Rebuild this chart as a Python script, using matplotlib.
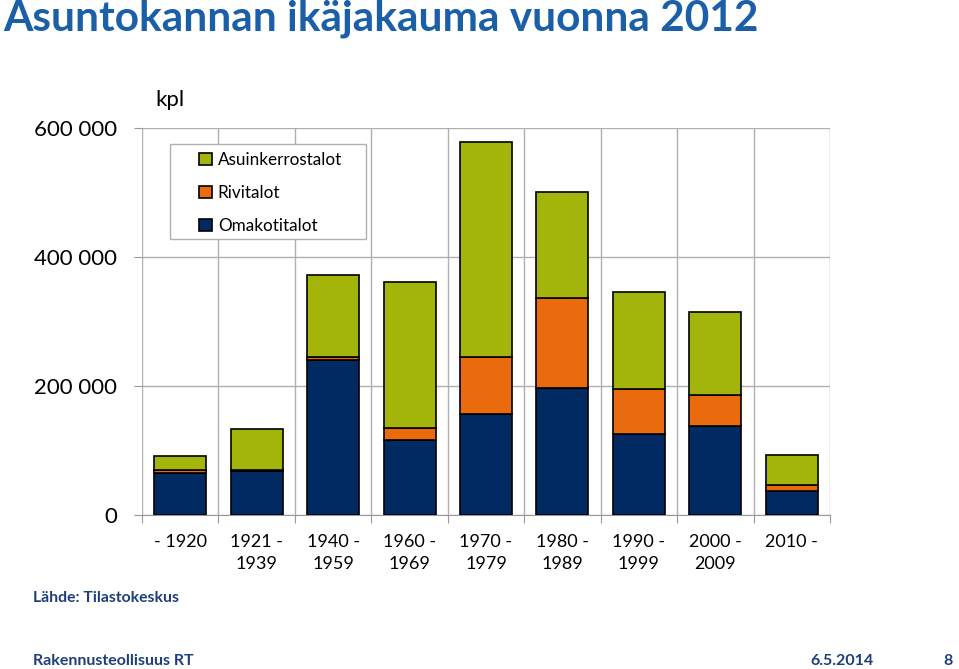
import numpy as np
import matplotlib.pyplot as plt
from matplotlib.patches import Rectangle
from matplotlib.ticker import FuncFormatter, FixedLocator

plt.rcParams['font.family'] = ['Lato', 'DejaVu Sans']

# data (thousands of dwellings)
periods = ['- 1920', '1921 -\n1939', '1940 -\n1959', '1960 -\n1969', '1970 -\n1979',
           '1980 -\n1989', '1990 -\n1999', '2000 -\n2009', '2010 -']
omakotitalot = [65, 68, 240, 116, 157, 197, 125, 138, 37]
rivitalot = [4, 2, 5, 19, 88, 139, 71, 48, 10]
asuinkerrostalot = [23, 63, 127, 227, 334, 165, 149, 128, 46]

col_blue = '#012a62'
col_orange = '#ea6a0e'
col_green = '#a3b50b'
col_text = '#1f3f7a'

W, H = 959, 669
fig = plt.figure(figsize=(W / 100, H / 100), dpi=100)
ax = fig.add_axes([142 / W, 1 - 515 / H, 688 / W, 387 / H])

x = np.arange(len(periods))
om = np.array(omakotitalot) * 1000
ri = np.array(rivitalot) * 1000
ak = np.array(asuinkerrostalot) * 1000

w = 0.68
ax.bar(x, om, w, color=col_blue, edgecolor='black', linewidth=1.2, label='Omakotitalot', zorder=3)
ax.bar(x, ri, w, bottom=om, color=col_orange, edgecolor='black', linewidth=1.2, label='Rivitalot', zorder=3)
ax.bar(x, ak, w, bottom=om + ri, color=col_green, edgecolor='black', linewidth=1.2,
       label='Asuinkerrostalot', zorder=3)

ax.set_xlim(-0.5, len(periods) - 0.5)
ax.set_ylim(0, 600000)

# y axis
ax.set_yticks([0, 200000, 400000, 600000])
ax.yaxis.set_major_formatter(FuncFormatter(lambda v, p: f'{int(v):,}'.replace(',', ' ')))
ax.tick_params(axis='y', labelsize=16, length=6, color='#999999', pad=12, labelcolor='black')
ax.grid(axis='y', color='#b0b0b0', linewidth=1, zorder=0)

# x axis: gridlines on category boundaries, labels in centers
ax.xaxis.set_major_locator(FixedLocator(np.arange(-0.5, len(periods), 1.0)))
ax.xaxis.set_minor_locator(FixedLocator(x))
ax.set_xticklabels([])
ax.set_xticklabels(periods, minor=True, fontsize=13, linespacing=1.45, va='top')
ax.tick_params(axis='x', which='major', length=6, color='#999999')
ax.tick_params(axis='x', which='minor', length=0, pad=14)
ax.grid(axis='x', which='major', color='#b0b0b0', linewidth=1, zorder=0)

for s in ['top', 'right', 'left']:
    ax.spines[s].set_visible(False)
ax.spines['bottom'].set_color('#999999')

# legend box drawn separately (wider padding than matplotlib's frame)
fig.patches.append(Rectangle((170 / W, 1 - 239 / H), 196 / W, 95 / H, transform=fig.transFigure,
                             facecolor='white', edgecolor='#b0b0b0', linewidth=1, zorder=4))
handles, labels = ax.get_legend_handles_labels()
leg = fig.legend(handles[::-1], labels[::-1], loc='upper left', bbox_to_anchor=(199 / W, 1 - 152 / H),
                 fontsize=12.3, frameon=False, handlelength=0.75, handleheight=0.75,
                 handletextpad=0.35, labelspacing=1.0, borderpad=0, borderaxespad=0)
leg.set_zorder(5)

fig.text(155 / W, 1 - 100 / H, 'kpl', fontsize=16, va='center', ha='left')

fig.text(3 / W, 1 - 19 / H, 'Asuntokannan ikäjakauma vuonna 2012', fontsize=30.5,
         fontweight='bold', color='#1a5fa8', va='center', ha='left')
fig.text(33 / W, 1 - 598 / H, 'Lähde: Tilastokeskus', fontsize=11.3, fontweight='bold',
         color=col_text, va='center', ha='left')
fig.text(33 / W, 1 - 661 / H, 'Rakennusteollisuus RT', fontsize=11.5, fontweight='bold',
         color=col_text, va='center', ha='left')
fig.text(874 / W, 1 - 661 / H, '6.5.2014', fontsize=11.5, fontweight='bold',
         color=col_text, va='center', ha='right')
fig.text(953 / W, 1 - 661 / H, '8', fontsize=11.5, fontweight='bold',
         color=col_text, va='center', ha='right')

fig.savefig('out.png', dpi=100)
